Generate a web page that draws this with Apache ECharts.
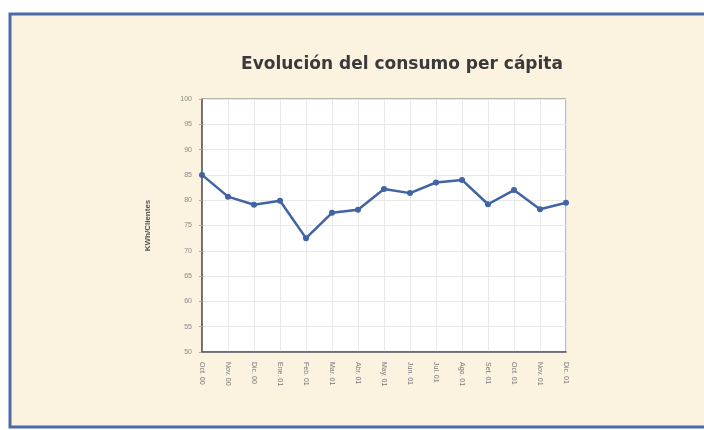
<!DOCTYPE html>
<html>
<head>
<meta charset="utf-8">
<script src="https://cdn.jsdelivr.net/npm/echarts@6/dist/echarts.min.js"></script>
<style>html,body{margin:0;padding:0;background:#fff;}#c{width:704px;height:430px;}</style>
</head>
<body>
<div id="c"></div>
<script>
const categories = ['Oct. 00','Nov. 00','Dic. 00','Ene. 01','Feb. 01','Mar. 01','Abr. 01','May. 01','Jun. 01','Jul. 01','Ago. 01','Set. 01','Oct. 01','Nov. 01','Dic. 01'];
const consumo = [85.0, 80.7, 79.1, 79.9, 72.5, 77.5, 78.1, 82.2, 81.4, 83.5, 84.0, 79.2, 82.0, 78.2, 79.5];
const yTicks = {min: 50, max: 100, interval: 5};

const chart = echarts.init(document.getElementById('c'), null, {renderer: 'canvas'});
chart.setOption({
  backgroundColor: '#ffffff',
  animation: false,
  graphic: [{
    type: 'rect', z: -10, silent: true,
    shape: {x: 10, y: 14, width: 720, height: 413},
    style: {fill: '#fbf3df', stroke: '#4a6aa8', lineWidth: 3}
  }],
  title: {
    text: 'Evolución del consumo per cápita',
    left: 397, top: 51, textAlign: 'center',
    textStyle: {fontFamily: 'DejaVu Sans, sans-serif', fontSize: 17, fontWeight: 'bold', color: '#3a3a3a'}
  },
  grid: {left: 202, right: 138, top: 99, bottom: 78, show: true, backgroundColor: '#ffffff', borderColor: '#777', borderWidth: 1},
  xAxis: {
    type: 'category', data: categories, boundaryGap: false,
    axisLine: {lineStyle: {color: '#555', width: 1.5}},
    axisTick: {show: false},
    axisLabel: {rotate: -90, margin: 10, fontSize: 7, color: '#777', fontFamily: 'Liberation Sans, Arial, sans-serif', interval: 0},
    splitLine: {show: true, lineStyle: {color: '#e8e8e8', width: 1}}
  },
  yAxis: {
    type: 'value', min: yTicks.min, max: yTicks.max, interval: yTicks.interval,
    name: 'KWh/Clientes', nameLocation: 'middle', nameGap: 50, nameRotate: 90,
    nameTextStyle: {fontSize: 8, fontWeight: 'bold', color: '#555', fontFamily: 'Liberation Sans, Arial, sans-serif'},
    axisLine: {show: true, lineStyle: {color: '#555', width: 1.5}},
    axisTick: {show: true, length: 3, lineStyle: {color: '#aaa'}},
    axisLabel: {fontSize: 7, color: '#888', margin: 10, fontFamily: 'Liberation Sans, Arial, sans-serif'},
    splitLine: {show: true, lineStyle: {color: '#e8e8e8', width: 1}}
  },
  series: [{
    type: 'line', data: consumo,
    symbol: 'circle', symbolSize: 6,
    lineStyle: {color: '#3f63a3', width: 2.5},
    itemStyle: {color: '#3f63a3'}
  }]
});
</script>
</body>
</html>
